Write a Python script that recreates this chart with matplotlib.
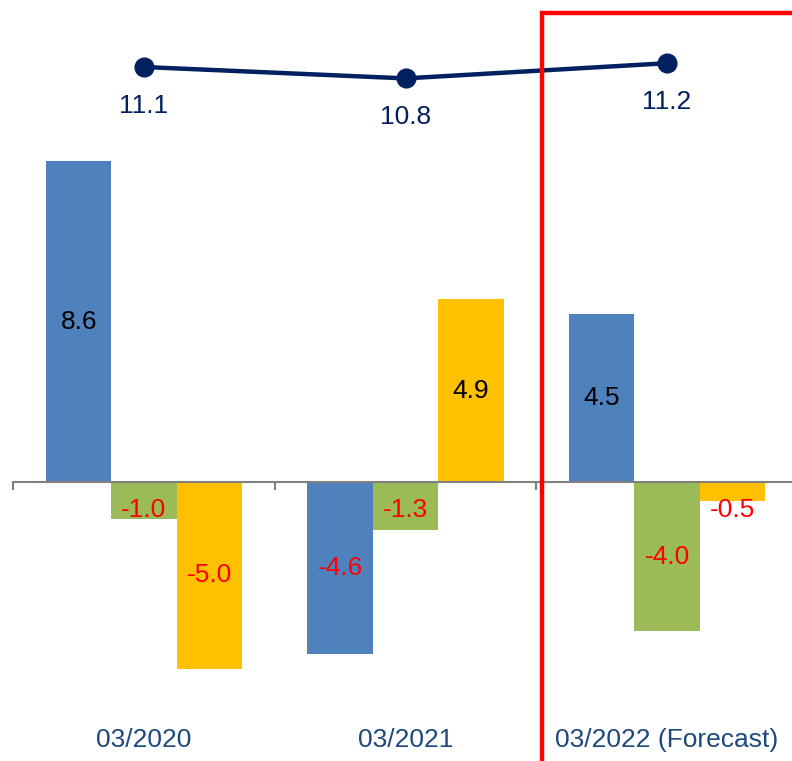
import matplotlib
matplotlib.use("Agg")
import matplotlib.pyplot as plt
from matplotlib.lines import Line2D
import numpy as np

plt.rcParams['font.family'] = ['Liberation Sans', 'DejaVu Sans']

categories = ["03/2020", "03/2021", "03/2022 (Forecast)"]
series_a = [8.6, -4.6, 4.5]
series_b = [-1.0, -1.3, -4.0]
series_c = [-5.0, 4.9, -0.5]
line_vals = [11.1, 10.8, 11.2]

colors = ["#4F81BD", "#9BBB59", "#FFC000"]
W, H = 792, 761
fig = plt.figure(figsize=(W / 100, H / 100), dpi=100)
ax = fig.add_axes([0, 0, 1, 1])

ppu = 37.3
zero_px = 482
ax.set_ylim(-(H - zero_px) / ppu, zero_px / ppu)
xc0, xpu = 144, 261.5
ax.set_xlim(-xc0 / xpu, (W - xc0) / xpu)

x = np.arange(len(categories))
bw = 0.25
fs = 19
for i, (vals, col) in enumerate(zip([series_a, series_b, series_c], colors)):
    xs = x + (i - 1) * bw
    ax.bar(xs, vals, width=bw, color=col, zorder=2)
    for xi, v in zip(xs, vals):
        if v >= 0:
            ax.text(xi, v / 2, f"{v:.1f}", ha='center', va='center', fontsize=fs, color='black')
        else:
            ax.text(xi, min(v / 2, -0.75), f"{v:.1f}", ha='center', va='center', fontsize=fs, color='#FF0000')

for s in ['top', 'right', 'left']:
    ax.spines[s].set_visible(False)
ax.spines['bottom'].set_position(('data', 0))
ax.spines['bottom'].set_color('#808080')
ax.spines['bottom'].set_linewidth(1.5)
ax.spines['bottom'].set_bounds(-0.5, (W - xc0) / xpu)
ax.set_xticks([-0.5, 0.5, 1.5])
ax.tick_params(axis='x', direction='out', length=6, width=1.5, color='#808080', labelbottom=False)
ax.set_yticks([])

lab_y = (zero_px - 740) / ppu
for xi, c in zip(x, categories):
    ax.text(xi, lab_y, c, ha='center', va='center', fontsize=fs, color='#1F497D')

# line on twin axis
ax2 = ax.twinx()
ax2.set_position([0, 0, 1, 1])
lppu = 38.0
top_v = 11.1 + 67 / lppu
ax2.set_ylim(top_v - H / lppu, top_v)
ax2.plot(x, line_vals, color='#002060', lw=3.2, marker='o', markersize=13.5, zorder=3)
for xi, v in zip(x, line_vals):
    ax2.text(xi, v - 39 / lppu, f"{v:.1f}", ha='center', va='center', fontsize=fs, color='#002060')
ax2.axis('off')

# red forecast frame
fx = 542 / W
fy = 1 - 13 / H
fig.add_artist(Line2D([fx, fx, 1.01], [-0.01, fy, fy], transform=fig.transFigure,
                      color='#FF0000', lw=3.2, solid_joinstyle='miter', zorder=10))

fig.savefig("out.png", dpi=100)
